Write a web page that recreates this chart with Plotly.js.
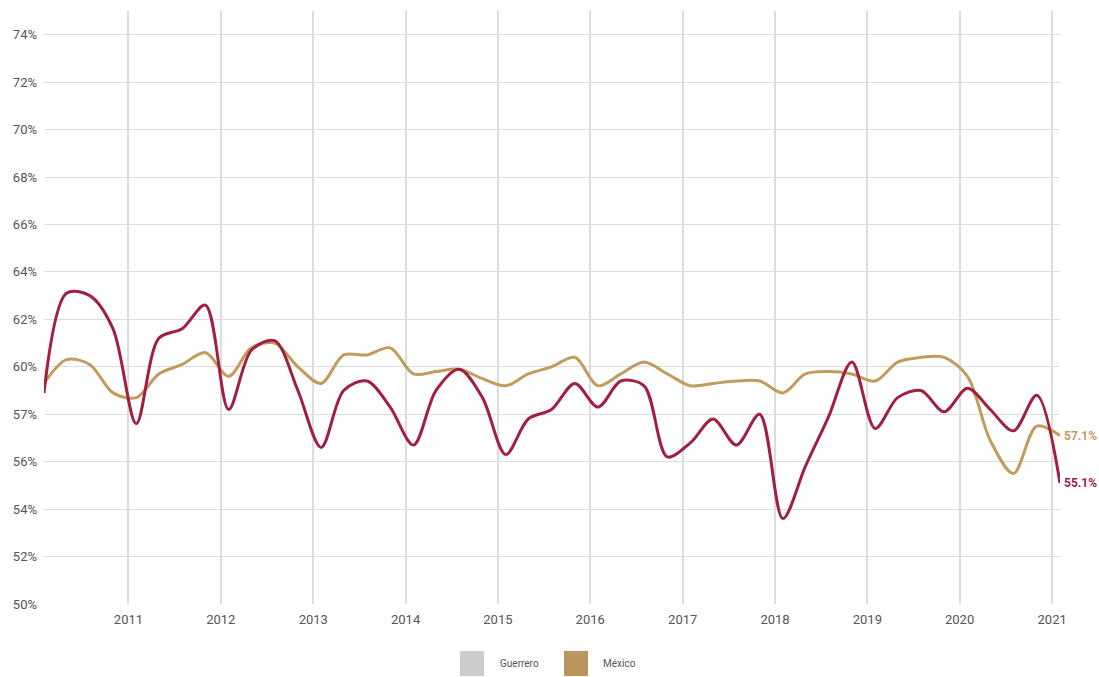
<!DOCTYPE html>
<html>
<head>
<meta charset="utf-8">
<script src="https://cdn.plot.ly/plotly-3.0.1.min.js"></script>
<style>html,body{margin:0;padding:0;background:#fff;}#chart{width:1099px;height:677px;}</style>
</head>
<body>
<div id="chart"></div>
<script>
// Quarterly dates (middle month of each quarter), 2010 Q1 – 2021 Q1
const dates = [
  "2010-02-01","2010-05-01","2010-08-01","2010-11-01",
  "2011-02-01","2011-05-01","2011-08-01","2011-11-01",
  "2012-02-01","2012-05-01","2012-08-01","2012-11-01",
  "2013-02-01","2013-05-01","2013-08-01","2013-11-01",
  "2014-02-01","2014-05-01","2014-08-01","2014-11-01",
  "2015-02-01","2015-05-01","2015-08-01","2015-11-01",
  "2016-02-01","2016-05-01","2016-08-01","2016-11-01",
  "2017-02-01","2017-05-01","2017-08-01","2017-11-01",
  "2018-02-01","2018-05-01","2018-08-01","2018-11-01",
  "2019-02-01","2019-05-01","2019-08-01","2019-11-01",
  "2020-02-01","2020-05-01","2020-08-01","2020-11-01",
  "2021-02-01"
];
const guerrero = [
  58.9, 63.1, 63.0, 61.6,
  57.6, 61.2, 61.6, 62.6,
  58.2, 60.7, 61.1, 59.0,
  56.6, 59.0, 59.4, 58.3,
  56.7, 59.0, 59.9, 58.7,
  56.3, 57.8, 58.2, 59.3,
  58.3, 59.4, 59.2, 56.2,
  56.8, 57.8, 56.7, 58.0,
  53.6, 55.8, 57.9, 60.2,
  57.4, 58.7, 59.0, 58.1,
  59.1, 58.2, 57.3, 58.8,
  55.1
];
const mexico = [
  59.3, 60.3, 60.1, 58.9,
  58.7, 59.7, 60.1, 60.6,
  59.6, 60.8, 61.0, 60.0,
  59.3, 60.5, 60.5, 60.8,
  59.7, 59.8, 59.9, 59.5,
  59.2, 59.7, 60.0, 60.4,
  59.2, 59.7, 60.2, 59.7,
  59.2, 59.3, 59.4, 59.4,
  58.9, 59.7, 59.8, 59.7,
  59.4, 60.2, 60.4, 60.4,
  59.6, 56.9, 55.5, 57.5,
  57.1
];
const yearTicks = ["2011-01-01","2012-01-01","2013-01-01","2014-01-01","2015-01-01","2016-01-01","2017-01-01","2018-01-01","2019-01-01","2020-01-01","2021-01-01"];
const yearLabels = ["2011","2012","2013","2014","2015","2016","2017","2018","2019","2020","2021"];
const yTickVals = [50,52,54,56,58,60,62,64,66,68,70,72,74];
const yTickText = ["50%","52%","54%","56%","57%","60%","62%","64%","66%","68%","70%","72%","74%"];
const seriesNames = ["Guerrero","México"];

const RED = "#A0213F", TAN = "#C29B5E";
const lastG = guerrero[guerrero.length-1], lastM = mexico[mexico.length-1];
const lastD = dates[dates.length-1];

const traces = [
  {x: dates, y: mexico, name: seriesNames[1], type: "scatter", mode: "lines",
   line: {color: TAN, width: 3, shape: "spline", smoothing: 0.9}, hoverinfo: "x+y"},
  {x: dates, y: guerrero, name: seriesNames[0], type: "scatter", mode: "lines",
   line: {color: RED, width: 3, shape: "spline", smoothing: 0.9}, hoverinfo: "x+y"}
];

const FONT = "Roboto, 'Noto Sans', sans-serif";
const PL = 44, PW = 1016, PB = 604, PH = 593;
const layout = {
  width: 1099, height: 677,
  margin: {l: PL, r: 1099 - PL - PW, t: 11, b: 677 - PB},
  paper_bgcolor: "#fff", plot_bgcolor: "#fff",
  showlegend: false,
  font: {family: FONT, color: "#555", size: 13},
  xaxis: {
    type: "date", range: ["2010-02-01","2021-02-01"],
    tickvals: yearTicks, ticktext: yearLabels,
    showgrid: true, gridcolor: "#dddddd", gridwidth: 1.5,
    zeroline: false, showline: false, ticks: "", ticklabelstandoff: 6,
    tickfont: {family: FONT, size: 13, color: "#555"}
  },
  yaxis: {
    range: [50, 75], tickvals: yTickVals, ticktext: yTickText,
    showgrid: true, gridcolor: "#dddddd", gridwidth: 1,
    zeroline: false, showline: false, ticks: "", ticklabelstandoff: 6,
    tickfont: {family: FONT, size: 13, color: "#555"}
  },
  annotations: [
    {x: lastD, y: lastM, xref: "x", yref: "y", text: "<b>" + lastM.toFixed(1) + "%</b>",
     showarrow: false, xanchor: "left", yanchor: "middle", xshift: 2,
     font: {family: FONT, size: 12, color: TAN}},
    {x: lastD, y: lastG, xref: "x", yref: "y", text: "<b>" + lastG.toFixed(1) + "%</b>",
     showarrow: false, xanchor: "left", yanchor: "middle", xshift: 2,
     font: {family: FONT, size: 12, color: RED}},
    {x: (498-PL)/PW, y: -(663-PB)/PH, xref: "paper", yref: "paper", text: seriesNames[0],
     showarrow: false, xanchor: "left", yanchor: "middle", font: {family: FONT, size: 10, color: "#555"}},
    {x: (601-PL)/PW, y: -(663-PB)/PH, xref: "paper", yref: "paper", text: seriesNames[1],
     showarrow: false, xanchor: "left", yanchor: "middle", font: {family: FONT, size: 10, color: "#555"}}
  ],
  shapes: [
    {type: "rect", xref: "paper", yref: "paper", layer: "above",
     x0: (460-PL)/PW, x1: (484-PL)/PW, y0: -(651-PB)/PH, y1: -(676-PB)/PH,
     fillcolor: "#cccccc", line: {width: 0}},
    {type: "rect", xref: "paper", yref: "paper", layer: "above",
     x0: (564-PL)/PW, x1: (588-PL)/PW, y0: -(651-PB)/PH, y1: -(676-PB)/PH,
     fillcolor: "#BC955C", line: {width: 0}}
  ]
};

Plotly.newPlot("chart", traces, layout, {displayModeBar: false});
</script>
</body>
</html>
